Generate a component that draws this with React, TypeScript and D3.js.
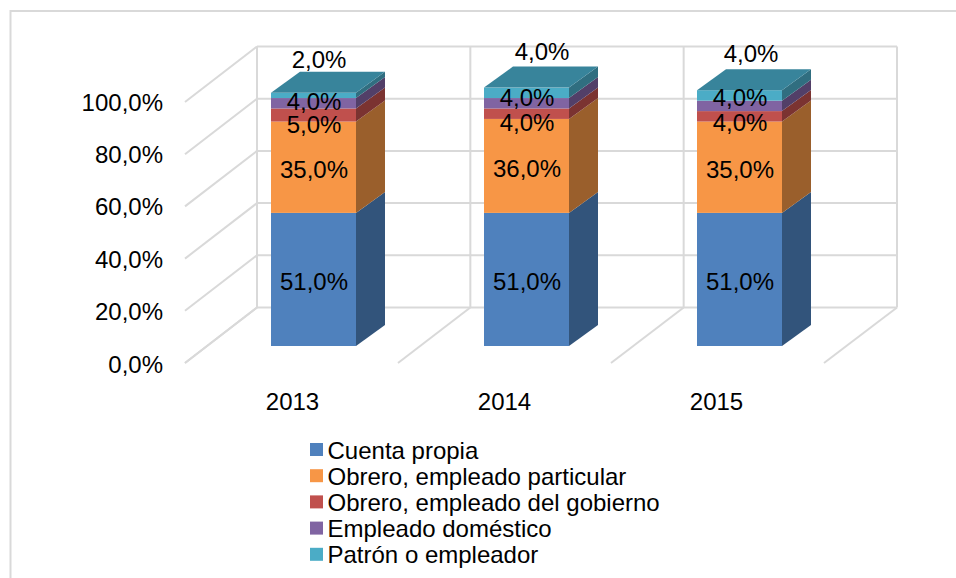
import React from "react";
import * as d3 from "d3";

const years = ["2013", "2014", "2015"];
const seriesNames = ["Cuenta propia", "Obrero, empleado particular", "Obrero, empleado del gobierno", "Empleado doméstico", "Patrón o empleador"];
const cuentaPropia = [51, 51, 51];
const obreroParticular = [35, 36, 35];
const obreroGobierno = [5, 4, 4];
const domestico = [4, 4, 4];
const patron = [2, 4, 4];
const seriesValues = [cuentaPropia, obreroParticular, obreroGobierno, domestico, patron];
const frontColors = ["#4f81bd", "#f79646", "#c0504d", "#8064a2", "#4bacc6"];
const sideColors = ["#32547b", "#9a5f2c", "#7b3331", "#523f68", "#306e80"];
const axisTicks = [0, 20, 40, 60, 80, 100];

// label nudges [series][year], px from segment centre
const nudgeX = [[0, 0, 0], [0, 0, 0], [0, 0, 0], [0, 0, 0], [5, 15, 11]];
const nudgeY = [[2, 2, 2], [2, 3, 2], [9, 9, 6], [-2, -6, -8], [-36, -41, -42]];

const fmt = (v: number, suffix = "%") => v.toFixed(1).replace(".", ",") + suffix;
const FONT = "'Liberation Sans', Arial, sans-serif";

export default function App() {
  const W = 956, H = 578;
  const y = d3.scaleLinear().domain([0, 100]).range([346, 85]);
  const wallY = d3.scaleLinear().domain([0, 100]).range([307.5, 46.5]);
  const sideY = d3.scaleLinear().domain([0, 100]).range([363, 102]);
  const axisY = d3.scaleLinear().domain([0, 100]).range([364, 102]);
  const slotX = d3.scaleLinear().domain([0, 3]).range([257, 897]);
  const floorX = d3.scaleLinear().domain([0, 3]).range([185, 824]);
  const barX = d3.scaleLinear().domain([0, 2]).range([271, 697]);
  const yearX = d3.scaleLinear().domain([0, 2]).range([292.5, 716.5]);
  const barW = 85, dx = 29, dy = -21;
  const grid = "#d9d9d9";

  const poly = (pts: [number, number][]) => {
    const p = d3.path();
    pts.forEach((q, i) => (i ? p.lineTo(q[0], q[1]) : p.moveTo(q[0], q[1])));
    p.closePath();
    return p.toString();
  };

  return (
    <svg width={W} height={H} viewBox={`0 0 ${W} ${H}`} style={{ position: "fixed", left: 0, top: 0, background: "#fff" }} fontFamily={FONT}>
      <path d={`M10.5 578V11H956`} fill="none" stroke="#d9d9d9" strokeWidth={2} />
      {axisTicks.map((t) => (
        <g key={t} stroke={grid} strokeWidth={2}>
          <line x1={185} y1={sideY(t)} x2={257} y2={wallY(t)} />
          <line x1={257} y1={wallY(t)} x2={897} y2={wallY(t)} />
        </g>
      ))}
      {d3.range(0, 4).map((i) => (
        <g key={i} stroke={grid} strokeWidth={2}>
          <line x1={slotX(i)} y1={wallY(0)} x2={slotX(i)} y2={wallY(100)} />
          <line x1={floorX(i)} y1={363} x2={slotX(i)} y2={wallY(0)} />
        </g>
      ))}
      {axisTicks.map((t) => (
        <text key={t} x={163} y={axisY(t)} textAnchor="end" dominantBaseline="central" fontSize={24} fill="#000">{fmt(t)}</text>
      ))}
      {years.map((yr, i) => {
        const x0 = barX(i);
        let acc = 0;
        const segs = seriesValues.map((vals, s) => {
          const a = acc, b = acc + vals[i];
          acc = b;
          return { s, a, b };
        });
        const top = segs[segs.length - 1];
        return (
          <g key={yr}>
            {segs.map(({ s, a, b }) => (
              <g key={s}>
                <path d={poly([[x0 + barW, y(a)], [x0 + barW + dx, y(a) + dy], [x0 + barW + dx, y(b) + dy], [x0 + barW, y(b)]])} fill={sideColors[s]} />
                <rect x={x0} y={y(b)} width={barW} height={y(a) - y(b)} fill={frontColors[s]} />
              </g>
            ))}
            <path d={poly([[x0, y(top.b)], [x0 + barW, y(top.b)], [x0 + barW + dx, y(top.b) + dy], [x0 + dx, y(top.b) + dy]])} fill="#38849b" />
            {segs.map(({ s, a, b }) => (
              <text key={s} x={x0 + barW / 2 + 0.5 + nudgeX[s][i]} y={(y(a) + y(b)) / 2 + nudgeY[s][i]} textAnchor="middle" dominantBaseline="central" fontSize={24} fill="#000">{fmt(b - a)}</text>
            ))}
            <text x={yearX(i)} y={401} textAnchor="middle" dominantBaseline="central" fontSize={24} fill="#000">{yr}</text>
          </g>
        );
      })}
      {seriesNames.map((n, i) => (
        <g key={n}>
          <rect x={310} y={443 + i * 26.2} width={13} height={13} fill={frontColors[i]} />
          <text x={327.5} y={450 + i * 26.2} dominantBaseline="central" fontSize={24} fill="#000">{n}</text>
        </g>
      ))}
    </svg>
  );
}
